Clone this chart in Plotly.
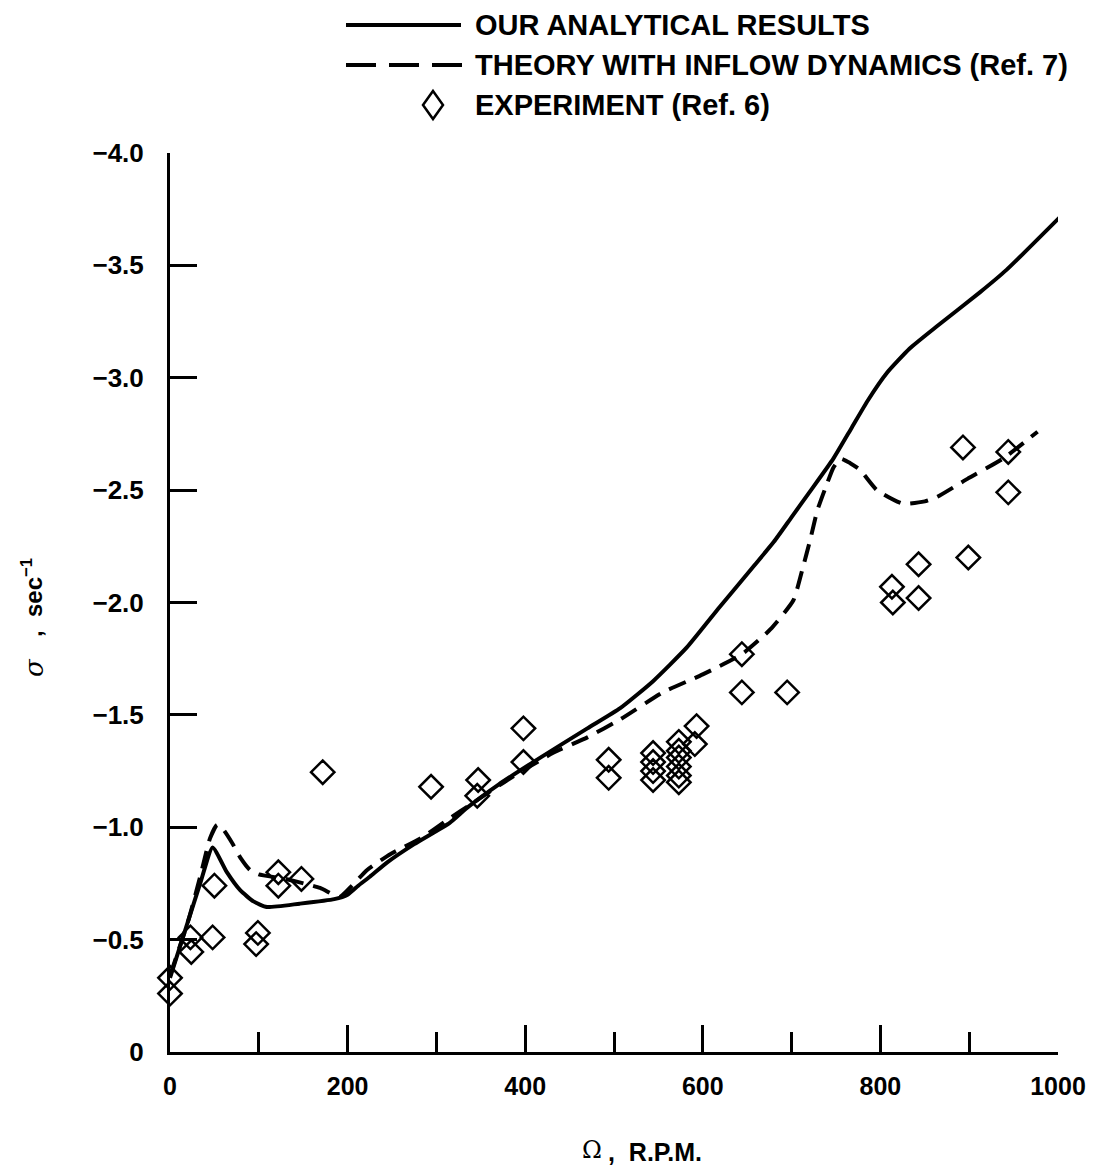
import plotly.graph_objects as go

# ---- data ----
solid_x = [0, 21, 34, 48, 64, 79, 94, 109, 146, 185, 200, 212, 225, 245, 275, 315, 334, 370, 413,
           470, 507, 544, 582, 619, 657, 680, 700, 720, 747, 768, 786, 807, 833, 864, 912, 942, 1006]
solid_y = [-0.33, -0.59, -0.75, -0.91, -0.80, -0.72, -0.67, -0.645, -0.66, -0.68, -0.70, -0.74,
           -0.78, -0.845, -0.925, -1.02, -1.085, -1.19, -1.30, -1.44, -1.53, -1.65, -1.80, -1.98,
           -2.16, -2.27, -2.38, -2.49, -2.64, -2.78, -2.90, -3.02, -3.13, -3.23, -3.38, -3.48, -3.73]

dash_x = [0, 21, 34, 45, 53, 60, 70, 80, 90, 100, 130, 169, 191, 205, 222, 248, 282, 315, 338,
          380, 431, 470, 507, 555, 600, 644, 676, 702, 713, 721, 729, 740, 747, 755, 766, 777,
          796, 825, 850, 864, 898, 938, 977]
dash_y = [-0.34, -0.59, -0.78, -0.95, -1.01, -0.99, -0.93, -0.86, -0.81, -0.79, -0.77, -0.73,
          -0.69, -0.74, -0.81, -0.88, -0.95, -1.04, -1.10, -1.21, -1.33, -1.40, -1.48, -1.60,
          -1.68, -1.77, -1.88, -2.01, -2.16, -2.28, -2.41, -2.53, -2.60, -2.64, -2.62, -2.59,
          -2.50, -2.44, -2.45, -2.47, -2.55, -2.64, -2.76]

exp_x = [0, 0, 23, 24, 50, 48, 99, 97, 122, 122, 148, 172, 294, 347, 346, 398, 398, 494, 494,
         544, 544, 544, 544, 573, 573, 573, 573, 573, 573, 593, 591, 644, 644, 695, 813, 814,
         843, 843, 893, 899, 944, 944]
exp_y = [-0.33, -0.26, -0.51, -0.445, -0.74, -0.51, -0.53, -0.48, -0.80, -0.74, -0.77, -1.245,
         -1.18, -1.21, -1.14, -1.44, -1.29, -1.30, -1.22, -1.33, -1.29, -1.25, -1.21, -1.38,
         -1.34, -1.31, -1.27, -1.23, -1.20, -1.45, -1.37, -1.77, -1.60, -1.60, -2.07, -2.00,
         -2.17, -2.02, -2.69, -2.20, -2.67, -2.49]

x_tickvals = [0, 200, 400, 600, 800, 1000]
x_ticktext = ["0", "200", "400", "600", "800", "1000"]
y_tickvals = [0, -0.5, -1.0, -1.5, -2.0, -2.5, -3.0, -3.5, -4.0]
y_ticktext = ["0", "−0.5", "−1.0", "−1.5", "−2.0", "−2.5", "−3.0", "−3.5", "−4.0"]

legend_names = ["OUR ANALYTICAL RESULTS",
                "THEORY WITH INFLOW DYNAMICS (Ref. 7)",
                "EXPERIMENT (Ref. 6)"]

FONT = "Liberation Sans, Arial, sans-serif"
SERIF = "DejaVu Serif, Liberation Serif, serif"

fig = go.Figure()
fig.add_trace(go.Scatter(x=solid_x, y=solid_y, mode="lines", name=legend_names[0],
                         line=dict(color="black", width=4, shape="spline", smoothing=0.5)))
fig.add_trace(go.Scatter(x=dash_x, y=dash_y, mode="lines", name=legend_names[1],
                         line=dict(color="black", width=4, dash="18px,10px",
                                   shape="spline", smoothing=0.5)))
fig.add_trace(go.Scatter(x=exp_x, y=exp_y, mode="markers", name=legend_names[2],
                         marker=dict(symbol="diamond-open", size=18, color="black",
                                     line=dict(color="black", width=2.5)),
                         cliponaxis=False))

# plot area in page pixels: x 170..1058, y 153..1052 (page body has 8px margin)
L, R, T, B = 170, 1058, 153, 1052
W, H = R - L, B - T
OFF = 8


def px(xp):
    return (xp - L) / W


def py(yp):
    return (B - yp) / H


shapes = []
annotations = []
# legend (drawn by hand to match the long line samples of the original)
rows = [25, 65, 105]
shapes.append(dict(type="line", xref="paper", yref="paper", x0=px(346), x1=px(461),
                   y0=py(rows[0]), y1=py(rows[0]), line=dict(color="black", width=4)))
shapes.append(dict(type="line", xref="paper", yref="paper", x0=px(346), x1=px(463),
                   y0=py(rows[1]), y1=py(rows[1]),
                   line=dict(color="black", width=4, dash="30px,13px")))
cx, cy, hw, hh = 433, rows[2], 10, 14
shapes.append(dict(type="path", xref="paper", yref="paper",
                   path=f"M {px(cx)},{py(cy - hh)} L {px(cx + hw)},{py(cy)} L {px(cx)},{py(cy + hh)} L {px(cx - hw)},{py(cy)} Z",
                   line=dict(color="black", width=2.5)))
for name, r in zip(legend_names, rows):
    annotations.append(dict(text=f"<b>{name}</b>", xref="paper", yref="paper",
                            x=px(473), y=py(r), xanchor="left", yanchor="middle",
                            showarrow=False, font=dict(family=FONT, size=29, color="black")))

# x axis title
annotations.append(dict(text="Ω", xref="paper", yref="paper", x=px(592), y=py(1150),
                        xanchor="center", yanchor="middle", showarrow=False,
                        font=dict(family=SERIF, size=24, color="black")))
annotations.append(dict(text="<b>,  R.P.M.</b>", xref="paper", yref="paper", x=px(606), y=py(1152),
                        xanchor="left", yanchor="middle", showarrow=False,
                        font=dict(family=FONT, size=25, color="black")))
# y axis title
annotations.append(dict(text="<i>σ</i>", xref="paper", yref="paper", x=px(34), y=py(668),
                        xanchor="center", yanchor="middle", textangle=-90, showarrow=False,
                        font=dict(family=SERIF, size=26, color="black")))
annotations.append(dict(text="<b>,  sec<sup>−1</sup></b>", xref="paper", yref="paper",
                        x=px(32), y=py(598),
                        xanchor="center", yanchor="middle", textangle=-90, showarrow=False,
                        font=dict(family=FONT, size=24, color="black")))

fig.update_layout(
    width=1097 - OFF, height=1168 - OFF,
    margin=dict(l=L - OFF, r=1097 - R, t=T - OFF, b=1168 - B, pad=0),
    paper_bgcolor="white", plot_bgcolor="white",
    showlegend=False,
    shapes=shapes, annotations=annotations,
    xaxis=dict(range=[0, 1000], tickvals=x_tickvals, ticktext=x_ticktext, automargin=False,
               showline=True, linecolor="black", linewidth=3, showgrid=False, zeroline=False,
               ticks="inside", ticklen=27, tickwidth=2.5, tickcolor="black",
               minor=dict(dtick=100, tick0=0, ticks="inside", ticklen=20, tickwidth=2.5,
                          tickcolor="black", showgrid=False),
               ticklabelstandoff=10,
               tickfont=dict(family=FONT, size=25, color="black", weight="bold")),
    yaxis=dict(range=[0, -4], tickvals=y_tickvals, ticktext=y_ticktext, automargin=False,
               showline=True, linecolor="black", linewidth=3, showgrid=False, zeroline=False,
               ticks="inside", ticklen=27, tickwidth=2.5, tickcolor="black",
               ticklabelstandoff=18,
               tickfont=dict(family=FONT, size=26, color="black", weight="bold")),
)

fig.write_html("out.html")
